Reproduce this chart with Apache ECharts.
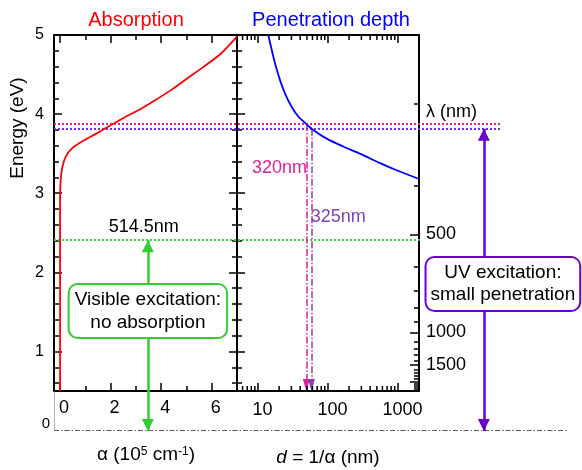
<!DOCTYPE html>
<html><head><meta charset="utf-8">
<script src="https://cdn.jsdelivr.net/npm/echarts@6/dist/echarts.min.js"></script>
<style>html,body{margin:0;padding:0;background:#fff}#c{width:582px;height:470px}</style>
</head><body><div id="c"></div>
<script>
// ---------------- data ----------------
const HC = 1239.84; // eV*nm
const toE = nm => HC / nm;

// Absorption coefficient alpha (1e5 cm^-1) vs photon energy (eV)
const absAlpha  = [0, 0, 0.025, 0.09, 0.22, 0.48, 0.95, 1.47, 2.0, 2.53, 3.19, 3.71, 4.37, 5.03, 5.69, 6.35, 7.0];
const absEnergy = [0.5, 2.91, 3.17, 3.33, 3.46, 3.57, 3.67, 3.76, 3.86, 3.955, 4.065, 4.165, 4.30, 4.45, 4.60, 4.76, 4.98];

// Penetration depth d = 1/alpha (nm) vs photon energy (eV)
const depthNm     = [14.0, 15.7, 17.5, 20.6, 24.3, 30.3, 37.6, 46.9, 61.6, 95.8, 165, 287, 555, 960, 2000];
const depthEnergy = [5.0, 4.81, 4.64, 4.43, 4.26, 4.09, 3.97, 3.89, 3.80, 3.69, 3.59, 3.50, 3.38, 3.29, 3.18];

// Laser lines
const uvLaserNm  = [320, 325];
const uvDepthNm  = [49, 58];
const visLaserNm = 514.5;

// Tick values
const alphaMajorTicks  = [0, 2, 4, 6];
const alphaMinorTicks  = [1, 3, 5, 7];
const energyMajorTicks = [1, 2, 3, 4, 5];
const energyMinorTicks = [0.6, 0.8, 1.2, 1.4, 1.6, 1.8, 2.2, 2.4, 2.6, 2.8, 3.2, 3.4, 3.6, 3.8, 4.2, 4.4, 4.6, 4.8];
const depthMinorTicks  = [6, 7, 8, 9, 20, 30, 40, 50, 60, 70, 80, 90, 200, 300, 400, 500, 600, 700, 800, 900];
const lambdaMajorTicks = [500, 1000, 1500, 2000];
const lambdaMinorTicks = [300, 400, 600, 700, 800, 900, 1100, 1200, 1300, 1400, 1600, 1700, 1800, 1900, 2100, 2200, 2300, 2400];
const lambdaLabelTicks = [500, 1000, 1500];

// --------------- chart ----------------
const FONT = 'Liberation Sans, Arial, sans-serif';
const C_RED = '#ff0000', C_BLUE = '#0000ff', C_MAG = '#e01f96', C_PUR = '#8044b8',
      C_PURDOT = '#7a2de0', C_UV = '#6a00d0', C_GREEN = '#33cc33', C_GREENDOT = '#33dd33';

const E320 = toE(uvLaserNm[0]), E325 = toE(uvLaserNm[1]), E514 = toE(visLaserNm);
const LAMBDA_NAME_E = 4.03;
// overlay positions (fractions of the overlay width)
const OV = { dottedEnd: 0.873, greenEnd: 0.713, greenX: 0.183, uvX: 0.838, uvBoxX: 0.875, visLabelX: 0.175 };

function axis(gridIndex, position, o) {
  const a = {
    gridIndex, position, type: o.type || 'value', min: o.min, max: o.max,
    splitLine: { show: false },
    axisLine: { show: !!o.line, onZero: false, lineStyle: { color: '#000', width: 2 } },
    axisTick: { show: !!o.ticks, inside: true, length: o.len || 8, lineStyle: { color: '#000', width: 1.5 } },
    axisLabel: { show: !!o.labels, color: '#000', fontFamily: FONT, fontSize: o.fontSize || 18,
                 margin: o.margin == null ? 8 : o.margin, padding: o.padding || 0 }
  };
  if (Array.isArray(o.ticks)) a.axisTick.customValues = o.ticks;
  if (Array.isArray(o.labels)) a.axisLabel.customValues = o.labels;
  if (o.formatter) a.axisLabel.formatter = o.formatter;
  if (o.type === 'log') { a.logBase = 10; a.axisLabel.showMinLabel = false; a.axisLabel.showMaxLabel = false; }
  if (o.hidden) a.show = false;
  if (o.verticalAlign) a.axisLabel.verticalAlign = o.verticalAlign;
  return a;
}

const AX = { min: -0.24, max: 7 };
const EY = { min: 0.5, max: 5 };
const DX = { type: 'log', min: 5, max: 2000 };

const xAxis = [
  axis(0, 'bottom', { ...AX, line: true, ticks: alphaMajorTicks, labels: alphaMajorTicks, margin: 8, padding: [0, 0, 0, 8] }), // 0
  axis(0, 'bottom', { ...AX, ticks: alphaMinorTicks, len: 5 }),                                                              // 1
  axis(0, 'top',    { ...AX, line: true, ticks: alphaMajorTicks }),                                                          // 2
  axis(0, 'top',    { ...AX, ticks: alphaMinorTicks, len: 5 }),                                                              // 3
  axis(1, 'bottom', { ...DX, line: true, ticks: true, labels: true, margin: 10, padding: [0, 0, 0, 9],
                      formatter: v => String(Math.round(v)) }),                                                             // 4
  axis(1, 'top',    { ...DX, line: true, ticks: true }),                                                                     // 5
  axis(2, 'bottom', { min: 0, max: 1, hidden: true })                                                                        // 6
];

const yAxis = [
  axis(0, 'left',  { ...EY, line: true, ticks: energyMajorTicks, labels: energyMajorTicks, fontSize: 16, margin: 10 }), // 0
  axis(0, 'left',  { ...EY, ticks: energyMinorTicks, len: 5 }),                                                         // 1
  axis(0, 'right', { ...EY, line: true, ticks: energyMajorTicks }),                                                     // 2
  axis(0, 'right', { ...EY, ticks: energyMinorTicks, len: 5 }),                                                         // 3
  axis(1, 'left',  { ...EY, line: true, ticks: energyMajorTicks }),                                                     // 4
  axis(1, 'left',  { ...EY, ticks: energyMinorTicks, len: 5 }),                                                         // 5
  axis(1, 'right', { ...EY, line: true, ticks: lambdaMajorTicks.map(toE), len: 9,
                     labels: [LAMBDA_NAME_E].concat(lambdaLabelTicks.map(toE)), margin: 7,
                     formatter: v => (v > 3.9 ? 'λ (nm)' : String(Math.round(HC / v))) }),                             // 6
  axis(1, 'right', { ...EY, ticks: lambdaMinorTicks.map(toE), len: 5 }),                                                // 7
  axis(2, 'left',  { min: 0, max: 5, labels: [0], fontSize: 15, margin: 4, verticalAlign: 'bottom' })                   // 8
];

function arrowHeads(w, h) {
  return function (params, api) {
    const p = api.coord([api.value(0), api.value(1)]);
    const dir = api.value(2); // 1: points down, -1: points up
    return { type: 'polygon',
      shape: { points: [[p[0], p[1]], [p[0] - w / 2, p[1] - dir * h], [p[0] + w / 2, p[1] - dir * h]] },
      style: { fill: api.visual('color') } };
  };
}

function logMinorTicks(params, api) {
  const b = api.coord([api.value(0), EY.min]);
  const t = api.coord([api.value(0), EY.max]);
  const st = { stroke: '#000', lineWidth: 1.5 };
  return { type: 'group', children: [
    { type: 'line', shape: { x1: b[0], y1: b[1], x2: b[0], y2: b[1] - 5 }, style: st },
    { type: 'line', shape: { x1: t[0], y1: t[1], x2: t[0], y2: t[1] + 5 }, style: st }
  ] };
}

function textLabel(text, color, extra) {
  return Object.assign({ show: true, position: 'inside', formatter: text, color, opacity: 1, textBorderWidth: 0,
                         fontFamily: FONT, fontSize: 18 }, extra || {});
}

const hidden = { color: 'rgba(0,0,0,0)', opacity: 1 };

const series = [
  // dotted energy lines spanning both panels
  { type: 'lines', coordinateSystem: 'cartesian2d', xAxisIndex: 6, yAxisIndex: 8, z: 2, silent: true,
    lineStyle: { type: [2, 2], width: 2, opacity: 1 },
    data: [
      { coords: [[0, E320], [OV.dottedEnd, E320]], lineStyle: { color: C_MAG } },
      { coords: [[0, E325], [OV.dottedEnd, E325]], lineStyle: { color: C_PURDOT } },
      { coords: [[0, E514], [OV.greenEnd, E514]], lineStyle: { color: C_GREENDOT } }
    ] },
  // E = 0 baseline and short grey axis extension
  { type: 'lines', coordinateSystem: 'cartesian2d', xAxisIndex: 6, yAxisIndex: 8, z: 2, silent: true,
    lineStyle: { opacity: 1 },
    data: [
      { coords: [[0, 0], [1, 0]], lineStyle: { color: '#222', width: 1.5, type: [5, 2, 1.5, 2] } },
      { coords: [[0, 0], [0, EY.min]], lineStyle: { color: '#9a9a9a', width: 1.5 } }
    ] },
  // double arrows (visible & UV)
  { type: 'lines', coordinateSystem: 'cartesian2d', xAxisIndex: 6, yAxisIndex: 8, z: 3, silent: true,
    lineStyle: { opacity: 1 },
    data: [
      { coords: [[OV.greenX, E514], [OV.greenX, 0]], lineStyle: { color: C_GREEN, width: 2.5 } },
      { coords: [[OV.uvX, E325], [OV.uvX, 0]], lineStyle: { color: C_UV, width: 2.5 } }
    ] },
  { type: 'custom', xAxisIndex: 6, yAxisIndex: 8, z: 3, silent: true, renderItem: arrowHeads(12, 12),
    data: [
      { value: [OV.greenX, E514, -1], itemStyle: { color: C_GREEN } },
      { value: [OV.greenX, 0, 1], itemStyle: { color: C_GREEN } },
      { value: [OV.uvX, E325, -1], itemStyle: { color: C_UV } },
      { value: [OV.uvX, 0, 1], itemStyle: { color: C_UV } }
    ] },
  // vertical dash-dot arrows at the UV penetration depths
  { type: 'lines', coordinateSystem: 'cartesian2d', xAxisIndex: 4, yAxisIndex: 4, z: 3, silent: true,
    lineStyle: { width: 1.5, type: [7, 2, 1.5, 2], opacity: 1 },
    data: [
      { coords: [[uvDepthNm[0], E320], [uvDepthNm[0], EY.min]], lineStyle: { color: C_MAG } },
      { coords: [[uvDepthNm[1], E325], [uvDepthNm[1], EY.min]], lineStyle: { color: C_PUR } }
    ] },
  { type: 'custom', xAxisIndex: 4, yAxisIndex: 4, z: 3, silent: true, renderItem: arrowHeads(7, 12),
    data: [
      { value: [uvDepthNm[0], EY.min, 1], itemStyle: { color: C_MAG } },
      { value: [uvDepthNm[1], EY.min, 1], itemStyle: { color: C_PUR } }
    ] },
  // log axis minor ticks
  { type: 'custom', xAxisIndex: 4, yAxisIndex: 4, z: 3, silent: true, renderItem: logMinorTicks,
    data: depthMinorTicks.map(v => [v, EY.min]) },
  // curves
  { type: 'line', xAxisIndex: 0, yAxisIndex: 0, z: 5, silent: true, showSymbol: false, smooth: 0.2,
    lineStyle: { color: C_RED, width: 1.8 }, data: absAlpha.map((a, i) => [a, absEnergy[i]]) },
  { type: 'line', xAxisIndex: 4, yAxisIndex: 4, z: 5, silent: true, showSymbol: false, smooth: 0.3,
    lineStyle: { color: C_BLUE, width: 1.8 }, data: depthNm.map((d, i) => [d, depthEnergy[i]]) },
  // text annotations
  { type: 'scatter', xAxisIndex: 4, yAxisIndex: 4, z: 6, silent: true, symbolSize: 1, itemStyle: hidden,
    data: [
      { value: [20.2, 3.32], label: textLabel('320nm', C_MAG) },
      { value: [140, 2.70], label: textLabel('325nm', C_PUR) }
    ] },
  { type: 'scatter', xAxisIndex: 6, yAxisIndex: 8, z: 10, silent: true, symbolSize: 1, itemStyle: hidden,
    data: [
      { value: [OV.visLabelX, 2.576], label: textLabel(visLaserNm + 'nm', '#000') },
      { value: [OV.greenX, 1.515], label: textLabel('Visible excitation:\nno absorption', '#000',
          { fontSize: 19, lineHeight: 23, align: 'center', backgroundColor: '#fff', borderColor: C_GREEN,
            borderWidth: 2, borderRadius: 8, padding: [3, 5, 3, 5] }) },
      { value: [OV.uvBoxX, 1.856], label: textLabel('UV excitation:\nsmall penetration', '#000',
          { fontSize: 19, lineHeight: 22, align: 'center', backgroundColor: '#fff', borderColor: C_UV,
            borderWidth: 2, borderRadius: 8, padding: [4, 4, 4, 4] }) }
    ] }
];

const chart = echarts.init(document.getElementById('c'), null, { renderer: 'canvas' });
chart.setOption({
  animation: false,
  backgroundColor: '#fff',
  grid: [
    { left: 54, top: 35, width: 183, height: 356 },
    { left: 237, top: 35, width: 182, height: 356 },
    { left: 54, top: 35, width: 513, height: 396 }
  ],
  xAxis, yAxis, series,
  graphic: [
    { type: 'text', x: 136, y: 20, style: { text: 'Absorption', fill: C_RED, fontSize: 20, fontFamily: FONT, align: 'center', verticalAlign: 'middle' } },
    { type: 'text', x: 331, y: 20, style: { text: 'Penetration depth', fill: C_BLUE, fontSize: 20, fontFamily: FONT, align: 'center', verticalAlign: 'middle' } },
    { type: 'text', x: 18, y: 128, rotation: Math.PI / 2, style: { text: 'Energy (eV)', fill: '#000', fontSize: 19, fontFamily: FONT, align: 'center', verticalAlign: 'middle' } },
    { type: 'text', x: 146, y: 455, style: { text: '{n|α (10}{s|5}{n| cm}{s|-1}{n|)}', align: 'center', verticalAlign: 'middle',
        rich: { n: { fontSize: 19, fontFamily: FONT, fill: '#000' }, s: { fontSize: 12, fontFamily: FONT, fill: '#000', verticalAlign: 'top' } } } },
    { type: 'text', x: 328, y: 458, style: { text: '{i|d}{n| = 1/α (nm)}', align: 'center', verticalAlign: 'middle',
        rich: { i: { fontSize: 19, fontFamily: FONT, fontStyle: 'italic', fill: '#000' }, n: { fontSize: 19, fontFamily: FONT, fill: '#000' } } } }
  ]
});
</script>
</body></html>
